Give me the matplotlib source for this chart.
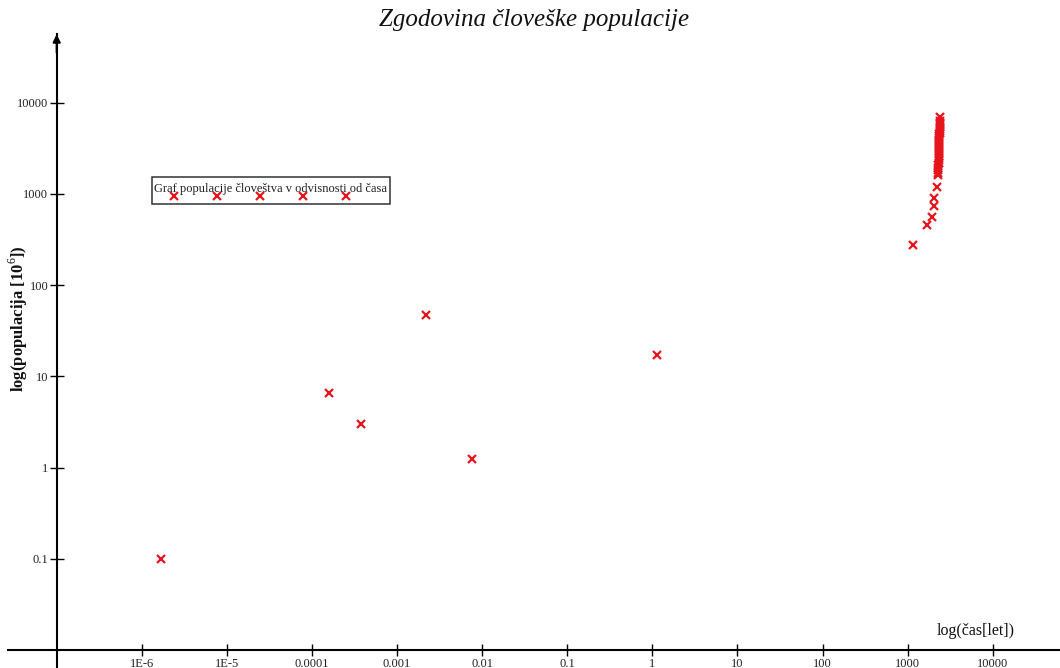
import matplotlib
matplotlib.use("Agg")
import matplotlib.pyplot as plt
from matplotlib.patches import Rectangle

# ---- data ----
title = "Zgodovina človeške populacije"
x_label = "log(čas[let])"
y_label = "log(populacija [10$^{6}$])"
legend_label = "Graf populacije človeštva v odvisnosti od časa"

x_ticks = [1e-6, 1e-5, 1e-4, 1e-3, 1e-2, 1e-1, 1, 10, 100, 1000, 10000]
x_tick_labels = ["1E-6", "1E-5", "0.0001", "0.001", "0.01", "0.1", "1", "10", "100", "1000", "10000"]
y_ticks = [0.1, 1, 10, 100, 1000, 10000]
y_tick_labels = ["0.1", "1", "10", "100", "1000", "10000"]

cas = [1.66e-6, 1.59e-4, 3.74e-4, 2.17e-3, 7.6e-3, 1.13,
       1156, 1706, 1919, 2027, 2061, 2198,
       2260, 2270, 2280, 2290, 2300, 2310, 2320, 2325, 2330, 2335,
       2340, 2345, 2350, 2350, 2355, 2355, 2360, 2360, 2365, 2365,
       2370, 2370, 2370, 2375, 2375, 2380, 2380, 2380]
populacija = [0.1, 6.6, 3.0, 46.6, 1.23, 17.0,
              279, 458, 561, 740, 906, 1178,
              1620, 1720, 1830, 1950, 2070, 2200, 2330, 2460, 2600, 2740,
              2890, 3040, 3200, 3370, 3540, 3720, 3900, 4090, 4290, 4500,
              4720, 4950, 5190, 5440, 5700, 5980, 6270, 6950]

legend_x = [2.4e-6, 7.7e-6, 2.46e-5, 7.8e-5, 2.5e-4]
legend_y = [946, 946, 946, 946, 946]

# ---- figure ----
plt.rcParams['font.family'] = ['Liberation Serif', 'DejaVu Serif']
plt.rcParams['mathtext.fontset'] = 'custom'
plt.rcParams['mathtext.rm'] = 'Liberation Serif'
plt.rcParams['mathtext.bf'] = 'Liberation Serif:bold'

W, H = 1060, 668
fig = plt.figure(figsize=(W / 100, H / 100), dpi=100)
fig.patch.set_facecolor('white')

left_px, right_px, top_px, bottom_px = 8, 1060, 34.3, 668
ax = fig.add_axes([left_px / W, 1 - bottom_px / H,
                   (right_px - left_px) / W, (bottom_px - top_px) / H])
ax.set_xscale('log')
ax.set_yscale('log')
ax.set_xlim(10 ** -7.572, 10 ** 4.79)
ax.set_ylim(10 ** -2.198, 10 ** 4.751)

for s in ['top', 'right']:
    ax.spines[s].set_visible(False)
ax.spines['left'].set_position(('data', 1e-7))
ax.spines['bottom'].set_position(('data', 0.01))
for s in ['left', 'bottom']:
    ax.spines[s].set_linewidth(1.5)
    ax.spines[s].set_color('black')

ax.set_xticks(x_ticks)
ax.set_xticklabels(x_tick_labels)
ax.set_yticks(y_ticks)
ax.set_yticklabels(y_tick_labels)
ax.minorticks_off()
ax.tick_params(axis='x', direction='inout', length=9, width=1, pad=1,
               labelsize=9, colors='black')
ax.tick_params(axis='y', direction='inout', length=10, width=1, pad=1,
               labelsize=9, colors='black')
for lab in ax.get_xticklabels() + ax.get_yticklabels():
    lab.set_color('#222222')

# arrow on the y axis
ax.annotate('', xy=(1e-7, 10 ** 4.751), xytext=(1e-7, 10 ** 4.55),
            arrowprops=dict(arrowstyle='-|>', color='black', lw=1.5,
                            mutation_scale=11, shrinkA=0, shrinkB=0),
            annotation_clip=False)

# data points
ax.plot(cas, populacija, linestyle='none', marker='x', color='#e8141b',
        markersize=5.5, markeredgewidth=1.6, clip_on=False, zorder=5)

# legend box
box = Rectangle((152 / W, 1 - 204.3 / H), (390 - 152) / W, (204.3 - 177.3) / H,
                transform=fig.transFigure, facecolor='white',
                edgecolor='#333333', linewidth=1.1, zorder=6)
ax.add_patch(box)
ax.text(271 / W, 1 - 189 / H, legend_label, ha='center', va='center',
        fontsize=9, color='#222222', zorder=7, transform=fig.transFigure)
ax.plot(legend_x, legend_y, linestyle='none', marker='x', color='#e8141b',
        markersize=5.5, markeredgewidth=1.6, zorder=8)

# labels and title
fig.text(534 / W, 1 - 20 / H, title, ha='center', va='center',
         fontsize=18, style='italic', color='#111111')
fig.text(976 / W, 1 - 631 / H, x_label, ha='center', va='center',
         fontsize=11.5, color='#111111')
fig.text(18 / W, 1 - 319 / H, y_label, ha='center', va='center',
         rotation=90, fontsize=12, fontweight='bold', color='#111111')

fig.savefig('out.png', dpi=100)
